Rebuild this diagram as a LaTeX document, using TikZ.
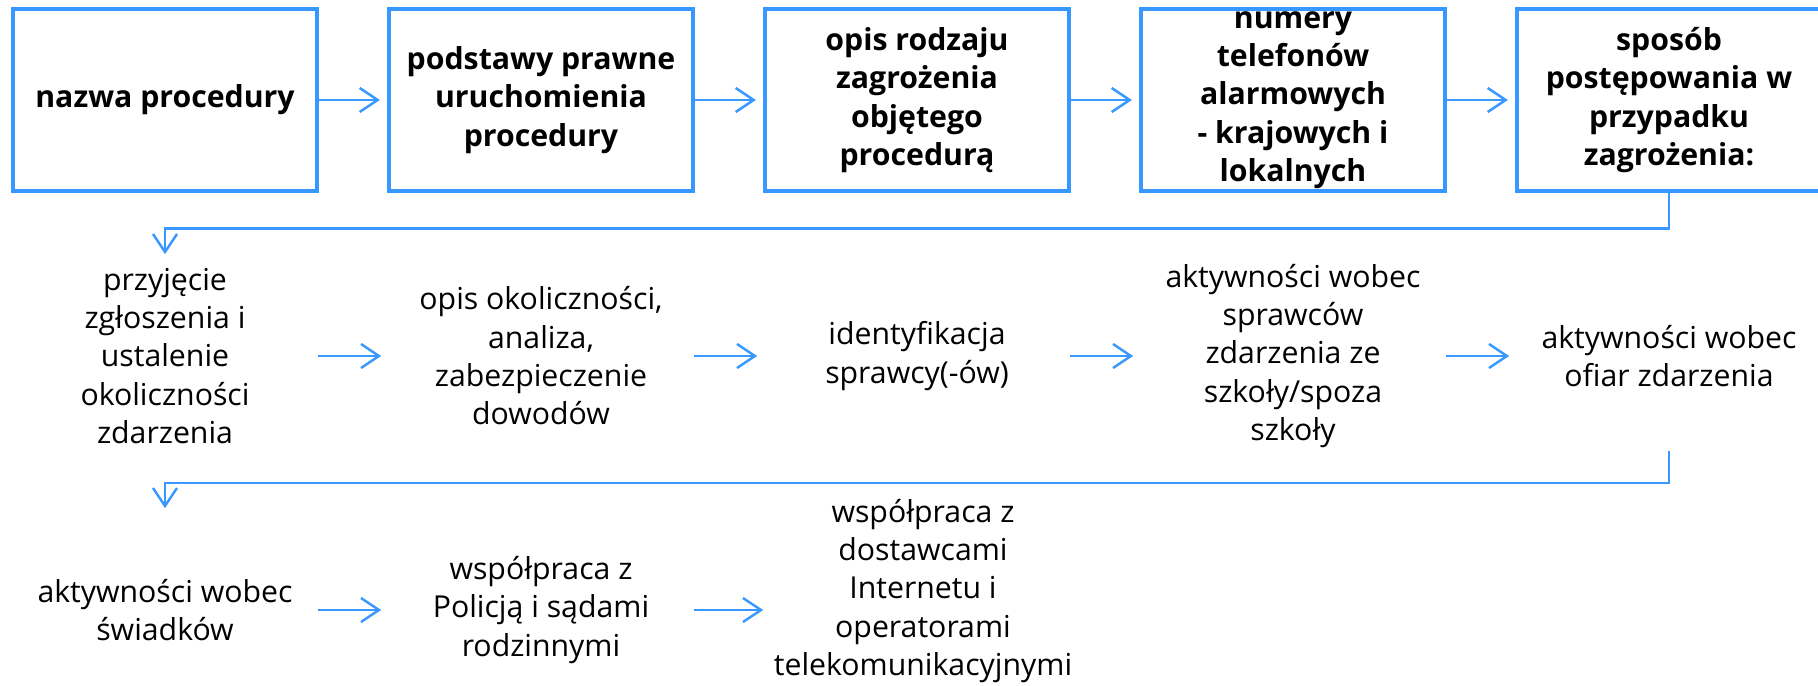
\documentclass[tikz,border=0pt]{standalone}
\usepackage{fontspec}
\setmainfont{Open Sans}
\usetikzlibrary{calc,positioning,arrows.meta}
\definecolor{flowblue}{RGB}{56,152,255}

\begin{document}
\begin{tikzpicture}[x=0.01cm,y=-0.01cm,
  every node/.style={align=center,inner sep=0pt,minimum width=3.04cm,minimum height=1.88cm,font=\fontsize{8.6}{10.9}\selectfont},
  frame/.style={draw=flowblue,line width=1.15pt,fill=white,minimum height=1.81cm,font=\fontsize{8.6}{10.9}\selectfont\bfseries},
  flow/.style={draw=flowblue,line width=0.7pt,-{Straight Barb[length=0.18cm,width=0.24cm]},shorten >=0.07cm}]
\useasboundingbox (0,0) rectangle (1818,686);
     % top row: framed boxes
     \node at (165,100)[frame](top1){nazwa procedury};
     \node at (541,100)[frame](top2){podstawy prawne\\uruchomienia\\procedury};
     \node at (917,100)[frame](top3){opis rodzaju\\zagrożenia\\objętego\\procedurą};
     \node at (1293,100)[frame](top4){numery\\telefonów\\alarmowych\\- krajowych i\\lokalnych};
     \node at (1669,100)[frame](top5){sposób\\postępowania w\\przypadku\\zagrożenia:};
     % second row
     \node at (165,356)(mid1){przyjęcie\\zgłoszenia i\\ustalenie\\okoliczności\\zdarzenia};
     \node at (541,356)(mid2){opis okoliczności,\\analiza,\\zabezpieczenie\\dowodów};
     \node at (917,356)(mid3){identyfikacja\\sprawcy(-ów)};
     \node at (1293,356)(mid4){aktywności wobec\\sprawców\\zdarzenia ze\\szkoły/spoza\\szkoły};
     \node at (1669,356)(mid5){aktywności wobec\\ofiar zdarzenia};
     % third row
     \node at (165,610)(low1){aktywności wobec\\świadków};
     \node at (541,610)(low2){współpraca z\\Policją i sądami\\rodzinnymi};
     \node at (923,591)(low3){współpraca z\\dostawcami\\Internetu i\\operatorami\\telekomunikacyjnymi};
     \path[flow](top1)edge(top2);
     \path[flow](top2)edge(top3);
     \path[flow](top3)edge(top4);
     \path[flow](top4)edge(top5);
     \path[flow](mid1)edge(mid2);
     \path[flow](mid2)edge(mid3);
     \path[flow](mid3)edge(mid4);
     \path[flow](mid4)edge(mid5);
     \path[flow](low1)edge(low2);
     \draw[flow](low2)--(low2-|low3.west);
     \draw[flow](top5.south)--++(0,36)-|(mid1.north);
     \draw[flow](mid5.south)--++(0,32)-|(low1.north);
\end{tikzpicture}
\end{document}
